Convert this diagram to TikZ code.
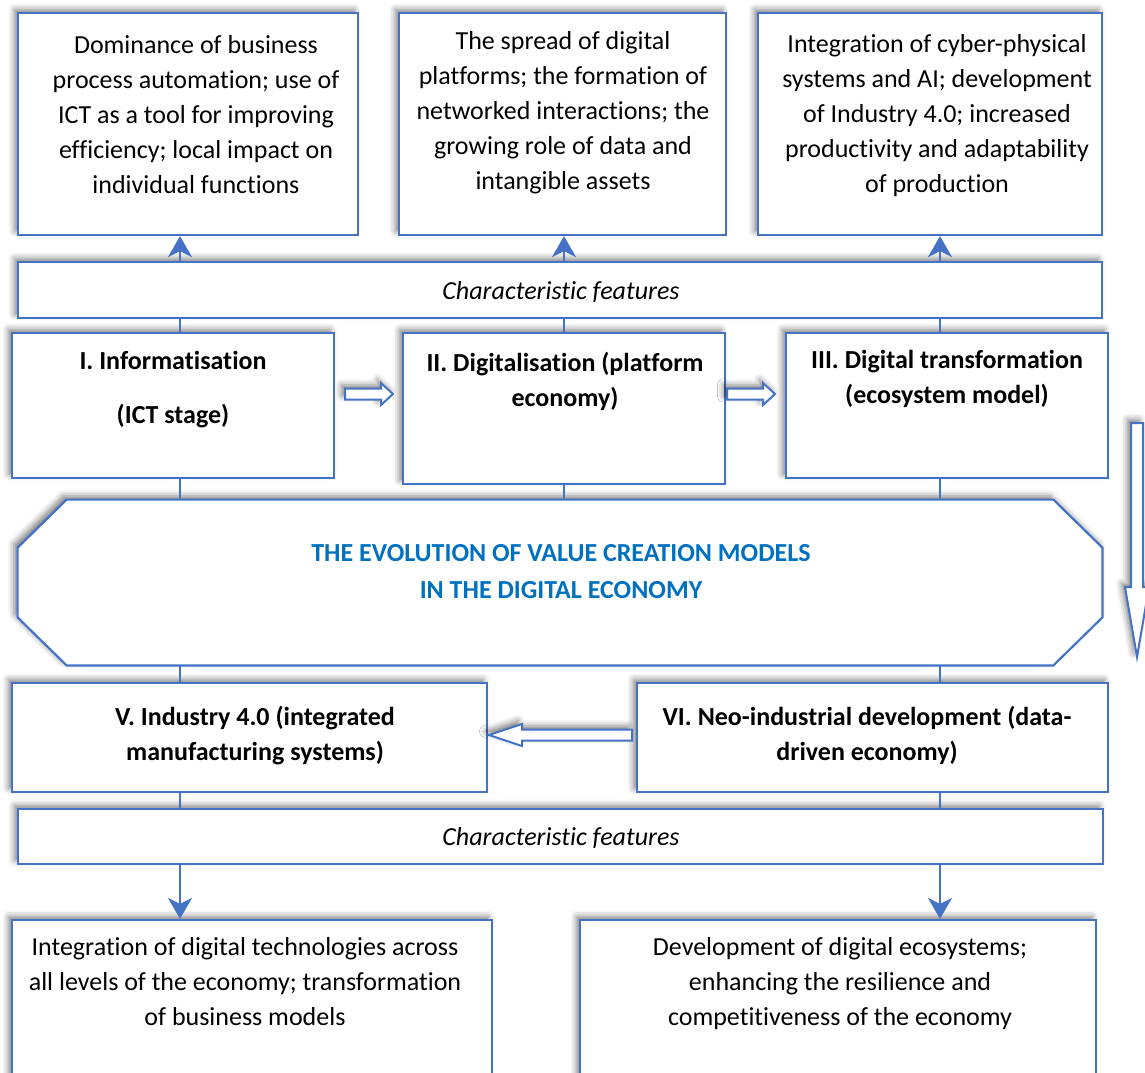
\documentclass[tikz,border=0pt]{standalone}
\usepackage{fontspec}
\setmainfont{Carlito}[Ligatures=NoCommon]
\usetikzlibrary{arrows.meta,calc,fit,shadows.blur}
\definecolor{edgeblue}{RGB}{68,114,196}
\definecolor{titleblue}{RGB}{0,112,192}
\newcommand\boxfont{\fontsize{13pt}{17.5pt}\selectfont}
\tikzset{
  panel/.style={
    draw=edgeblue,
    fill=white,
    line width=1.1pt,
    inner sep=0pt,
    blur shadow={shadow xshift=-1.8pt,shadow yshift=1.8pt,
      shadow blur radius=3pt,shadow opacity=50}
  },
  boxtext/.style={
    anchor=north,
    align=center,
    inner sep=0pt,
    font=\boxfont
  },
  stagetext/.style={
    boxtext,
    font=\boxfont\bfseries
  },
  link/.style={
    draw=edgeblue,
    line width=1pt
  },
  featlink/.style={
    link,
    -{Stealth[length=10.5pt,width=12pt,inset=3pt]}
  },
  hollowarrow/.style={
    draw=edgeblue,
    fill=white,
    line width=1pt,
    line join=miter,
    blur shadow={shadow xshift=-1.8pt,shadow yshift=1.8pt,
      shadow blur radius=3pt,shadow opacity=50}
  }
}

\begin{document}
\begin{tikzpicture}[x=0.5pt,y=-0.5pt]
  \useasboundingbox (0,0) rectangle (1145,1072);

  % Column axes shared by the vertical links.
  \coordinate (c1) at (180,0);
  \coordinate (c2) at (564,0);
  \coordinate (c3) at (940,0);

  % Feature boxes of the first three stages.
  \node[panel,fit={(18,13) (358,235)}] (feat1) {};
  \node[panel,fit={(399,13) (726,235)}] (feat2) {};
  \node[panel,fit={(758,13) (1102,235)}] (feat3) {};

  % Upper band.
  \node[panel,fit={(18,262) (1102,318)}] (band1) {};

  % Stages I--III.
  \node[panel,fit={(12,333) (334,478)}] (stage1) {};
  \node[panel,fit={(403,333) (725,484)}] (stage2) {};
  \node[panel,fit={(786,333) (1108,478)}] (stage3) {};

  % Central octagon with chamfered corners.
  \node[inner sep=0pt,fit={(18,500) (1102,665)}] (evo) {};
  \draw[panel] ($(evo.north west)+(49,0)$) -- ($(evo.north east)+(-49,0)$)
    -- ($(evo.north east)+(0,48)$) -- ($(evo.south east)+(0,-48)$)
    -- ($(evo.south east)+(-49,0)$) -- ($(evo.south west)+(49,0)$)
    -- ($(evo.south west)+(0,-48)$) -- ($(evo.north west)+(0,48)$) -- cycle;

  % Stages V and VI.
  \node[panel,fit={(12,683) (487,792)}] (stage5) {};
  \node[panel,fit={(637,683) (1108,792)}] (stage6) {};

  % Lower band and the outcome boxes below it.
  \node[panel,fit={(18,809) (1103,864)}] (band2) {};
  \node[panel,fit={(12,920) (492,1095)}] (out5) {};
  \node[panel,fit={(580,920) (1096,1095)}] (out6) {};

  % Vertical links through the bands.
  \foreach \c/\f/\s in {c1/feat1/stage1,c2/feat2/stage2,c3/feat3/stage3}{
    \draw[featlink] (band1.north -| \c) -- (\f.south -| \c);
    \draw[link] (\s.north -| \c) -- (band1.south -| \c);
    \draw[link] (\s.south -| \c) -- (evo.north -| \c);
  }
  \foreach \c/\s/\o in {c1/stage5/out5,c3/stage6/out6}{
    \draw[link] (evo.south -| \c) -- (\s.north -| \c);
    \draw[link] (\s.south -| \c) -- (band2.north -| \c);
    \draw[featlink] (band2.south -| \c) -- (\o.north -| \c);
  }

  % Hollow block arrows between the stages.
  \draw[hollowarrow] (345,388.5) -- (381,388.5) -- (381,383) -- (393,394)
    -- (381,405) -- (381,399.5) -- (345,399.5) -- cycle;
  \draw[hollowarrow] (727,388.5) -- (763,388.5) -- (763,383) -- (775,394)
    -- (763,405) -- (763,399.5) -- (727,399.5) -- cycle;
  \draw[hollowarrow] (632,729.5) -- (522,729.5) -- (522,724) -- (489,735)
    -- (522,746) -- (522,740.5) -- (632,740.5) -- cycle;
  \draw[hollowarrow] (1131,423) -- (1143,423) -- (1143,587) -- (1149,587)
    -- (1137,657) -- (1125,587) -- (1131,587) -- cycle;

  % Texts.
  \node[boxtext] (feat1text) at (196,35) {Dominance of business\\
    process automation; use of\\ ICT as a tool for improving\\
    efficiency; local impact on\\ individual functions};
  \node[boxtext] (feat2text) at (563,31) {The spread of digital\\
    platforms; the formation of\\ networked interactions; the\\
    growing role of data and\\ intangible assets};
  \node[boxtext] (feat3text) at (937,34) {Integration of cyber-physical\\
    systems and AI; development\\ of Industry 4.0; increased\\
    productivity and adaptability\\ of production};

  \node[boxtext,font=\boxfont\itshape] (band1text) at (561,281)
    {Characteristic features};
  \node[boxtext,font=\boxfont\itshape] (band2text) at (561,827)
    {Characteristic features};

  \node[stagetext] (stage1text) at (173,351)
    {I. Informatisation\\[9.5pt] (ICT stage)};
  \node[stagetext] (stage2text) at (565,352)
    {II. Digitalisation (platform\\ economy)};
  \node[stagetext] (stage3text) at (947,350)
    {III. Digital transformation\\ (ecosystem model)};
  \node[stagetext] (stage5text) at (255,706)
    {V. Industry 4.0 (integrated\\ manufacturing systems)};
  \node[stagetext] (stage6text) at (867,706)
    {VI. Neo-industrial development (data-\\ driven economy)};

  \node[stagetext,text=titleblue,font=\fontsize{13pt}{18.5pt}\selectfont\bfseries]
    (evotext) at (561,544)
    {THE EVOLUTION OF VALUE CREATION MODELS\\ IN THE DIGITAL ECONOMY};

  \node[boxtext] (out5text) at (245,937)
    {Integration of digital technologies across\\
    all levels of the economy; transformation\\ of business models};
  \node[boxtext] (out6text) at (840,937)
    {Development of digital ecosystems;\\
    enhancing the resilience and\\ competitiveness of the economy};
\end{tikzpicture}
\end{document}
